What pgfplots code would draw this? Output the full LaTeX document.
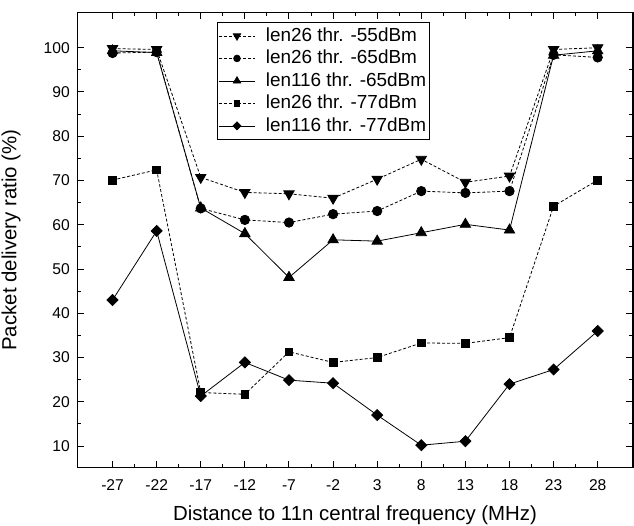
\documentclass[border=0pt]{standalone}
\usepackage{pgfplots}
\pgfplotsset{compat=1.18}
\usepackage{fontspec}
\setmainfont{Liberation Sans}
\begin{document}
\begin{tikzpicture}
\begin{axis}[
  scale only axis,
  width=556bp, height=455.7bp,
  xmin=-31, xmax=32, ymin=5.1, ymax=108,
  xtick={-27,-22,-17,-12,-7,-2,3,8,13,18,23,28},
  ytick={10,20,...,100},
  minor x tick num=1, minor y tick num=1,
  tick align=inside,
  major tick length=7bp, minor tick length=4bp,
  every tick/.style={black, line width=1bp},
  axis line style={line width=1.4bp},
  /pgf/number format/assume math mode=true,
  ticklabel style={font=\fontsize{15.7}{18}\selectfont},
  xticklabel style={yshift=-8bp},
  yticklabel style={xshift=-4bp},
  xlabel={Distance to 11n central frequency (MHz)},
  ylabel={Packet delivery ratio (\%)},
  label style={font=\fontsize{20.5}{24}\selectfont},
  xlabel style={at={(axis description cs:0.5,-0.1159)}, anchor=base},
  ylabel style={at={(axis description cs:-0.1097,0.5)}, anchor=base, rotate=0},
  every axis plot/.append style={black, line width=0.8bp},
  legend style={at={(rel axis cs:0.251,0.978)}, anchor=north west,
    font=\fontsize{19}{22}\selectfont, draw=black, line width=0.8bp,
    inner xsep=1bp, inner ysep=2bp, row sep=0bp, column sep=8bp,
    nodes={text height=14.5bp, text depth=4bp, inner ysep=2bp, inner xsep=2bp}},
  legend cell align=left,
  legend image code/.code={\draw[mark repeat=2,mark phase=2,line width=0.7bp,every mark/.append style={scale=0.72}] plot coordinates {(0bp,0bp)(18.5bp,0bp)(37bp,0bp)};},
]
\addplot[dash pattern=on 3bp off 2bp, mark=triangle*, mark size=6bp, mark options={solid, fill=black, rotate=180}]
coordinates {(-27,99.8)(-22,99.6)(-17,70.7)(-12,67.3)(-7,67.0)(-2,66.0)(3,70.3)(8,74.8)(13,69.6)(18,71.0)(23,99.6)(28,100.0)};
\addlegendentry{len26 thr. -55dBm}
\addplot[dash pattern=on 3bp off 2bp, mark=*, mark size=4.7bp, mark options={solid, fill=black}]
coordinates {(-27,98.8)(-22,99.0)(-17,63.7)(-12,61.1)(-7,60.5)(-2,62.4)(3,63.1)(8,67.6)(13,67.2)(18,67.6)(23,98.4)(28,97.8)};
\addlegendentry{len26 thr. -65dBm}
\addplot[solid, mark=triangle*, mark size=6bp, mark options={solid, fill=black}]
coordinates {(-27,99.3)(-22,98.9)(-17,63.8)(-12,58.0)(-7,48.1)(-2,56.6)(3,56.3)(8,58.2)(13,60.1)(18,58.8)(23,98.3)(28,99.3)};
\addlegendentry{len116 thr. -65dBm}
\addplot[dash pattern=on 3bp off 2bp, mark=square*, mark size=3.9bp, mark options={solid, fill=black}]
coordinates {(-27,70.1)(-22,72.4)(-17,22.1)(-12,21.7)(-7,31.3)(-2,28.9)(3,30.0)(8,33.3)(13,33.2)(18,34.5)(23,64.2)(28,70.1)};
\addlegendentry{len26 thr. -77dBm}
\addplot[solid, mark=square*, mark size=3.9bp, mark options={solid, fill=black, rotate=45}]
coordinates {(-27,43.0)(-22,58.6)(-17,21.3)(-12,28.9)(-7,24.9)(-2,24.2)(3,17.0)(8,10.2)(13,11.1)(18,24.0)(23,27.3)(28,36.0)};
\addlegendentry{len116 thr. -77dBm}
\end{axis}
\pgfresetboundingbox
\path[use as bounding box] (current axis.south west) ++(-77.3bp,-57.3bp) rectangle ([shift={(1bp,12.3bp)}]current axis.north east);
\end{tikzpicture}
\end{document}
